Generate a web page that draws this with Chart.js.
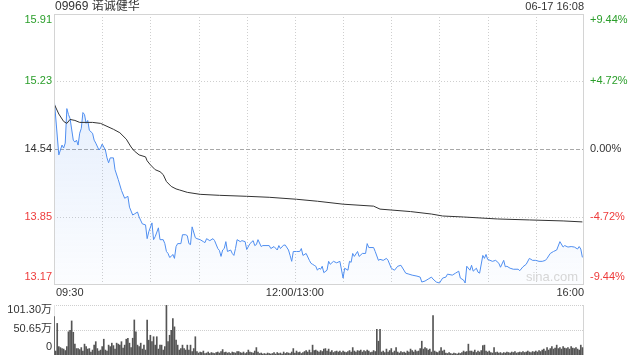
<!DOCTYPE html>
<html>
<head>
<meta charset="utf-8">
<script src="https://cdn.jsdelivr.net/npm/chart.js@4"></script>
<style>
  html, body { margin: 0; padding: 0; background: #fff; width: 640px; height: 360px; overflow: hidden; }
  #priceChart { position: absolute; left: 0; top: 0; }
  #volumeChart { position: absolute; left: 0; top: 300px; }
</style>
</head>
<body>
<canvas id="priceChart" width="640" height="300"></canvas>
<canvas id="volumeChart" width="640" height="60"></canvas>
<script>
// 09969 诺诚健华 intraday (minutes after 09:30, lunch break removed)
const stockTitle = '09969 诺诚健华';
const stampText = '06-17 16:08';
const prevClose = 14.54;

const priceTicks = [15.91, 15.23, 14.54, 13.85, 13.17];
const pctTicks = ['+9.44%', '+4.72%', '0.00%', '-4.72%', '-9.44%'];
const gridMinutes = [30, 60, 90, 120, 150, 180, 210, 240, 270, 300];
const timeLabels = ['09:30', '12:00/13:00', '16:00'];
const timeLabelMinutes = [0, 150, 330];
const volumeTicks = [101.3, 50.65, 0];
const volumeTickLabels = ['101.30万', '50.65万', '0'];

// [minute, price]
const priceSeries = [
  [0,15.07],[3,14.48],[5,14.58],[6,14.55],[7,14.60],[8,14.95],[9,14.89],[10,14.85],[12,14.63],[13,14.61],
  [14,14.63],[15,14.58],[16,14.70],[17,14.75],[18,14.91],[19,14.89],[20,14.80],[21,14.83],[22,14.73],[24,14.70],
  [25,14.63],[26,14.60],[28,14.53],[29,14.55],[30,14.59],[32,14.53],[33,14.45],[34,14.40],[35,14.45],[37,14.45],
  [38,14.33],[40,14.23],[42,14.12],[44,14.04],[46,14.06],[47,13.95],[49,13.87],[50,13.88],[52,13.90],[53,13.85],
  [55,13.78],[57,13.77],[58,13.63],[59,13.70],[61,13.79],[62,13.62],[63,13.65],[65,13.74],[66,13.62],[68,13.62],
  [69,13.58],[70,13.50],[71,13.48],[72,13.44],[73,13.45],[74,13.47],[75,13.43],[76,13.55],[77,13.58],[79,13.58],
  [80,13.67],[82,13.67],[83,13.66],[84,13.58],[85,13.57],[86,13.75],[88,13.64],[89,13.63],[91,13.62],[93,13.60],
  [94,13.59],[95,13.63],[97,13.61],[99,13.63],[100,13.61],[102,13.53],[103,13.51],[104,13.45],[105,13.515],[106,13.53],
  [107,13.60],[108,13.50],[110,13.515],[111,13.48],[112,13.46],[113,13.53],[114,13.62],[116,13.60],[117,13.61],[119,13.60],
  [120,13.52],[122,13.58],[124,13.61],[125,13.56],[126,13.57],[127,13.62],[129,13.55],[130,13.56],[132,13.56],[134,13.56],
  [135,13.53],[137,13.55],[139,13.515],[140,13.56],[141,13.53],[143,13.565],[144,13.565],[146,13.515],[147,13.46],[148,13.40],
  [149,13.50],[151,13.50],[153,13.50],[154,13.53],[155,13.46],[157,13.48],[159,13.41],[160,13.38],[161,13.37],[162,13.36],
  [163,13.35],[164,13.31],[165,13.33],[166,13.32],[167,13.35],[168,13.285],[170,13.31],[171,13.40],[172,13.37],[174,13.40],
  [176,13.385],[178,13.40],[180,13.23],[181,13.33],[183,13.31],[184,13.40],[185,13.39],[186,13.48],[187,13.45],[189,13.50],
  [190,13.45],[192,13.48],[194,13.48],[195,13.58],[196,13.54],[198,13.54],[199,13.54],[200,13.50],[202,13.41],[203,13.42],
  [205,13.41],[207,13.43],[208,13.41],[210,13.33],[212,13.31],[214,13.35],[216,13.36],[219,13.28],[221,13.27],[223,13.26],
  [226,13.25],[228,13.24],[229,13.19],[231,13.20],[233,13.22],[235,13.24],[236,13.22],[238,13.19],[240,13.18],[242,13.23],
  [244,13.24],[245,13.27],[248,13.26],[250,13.28],[252,13.30],[253,13.23],[255,13.21],[256,13.18],[257,13.35],[259,13.31],
  [260,13.36],[261,13.30],[263,13.33],[264,13.29],[265,13.28],[267,13.46],[268,13.43],[269,13.47],[270,13.42],[273,13.40],
  [275,13.41],[277,13.38],[278,13.34],[280,13.41],[281,13.345],[282,13.35],[284,13.33],[286,13.32],[289,13.32],[290,13.305],
  [292,13.345],[294,13.37],[296,13.43],[298,13.41],[300,13.41],[302,13.40],[304,13.40],[306,13.41],[307,13.43],[309,13.48],
  [311,13.50],[313,13.515],[315,13.60],[317,13.545],[318,13.56],[320,13.545],[322,13.55],[324,13.545],[326,13.525],[327,13.55],
  [328,13.525],[329,13.44]
];

// [minute, average price]
const avgSeries = [
  [0,15.00],[3,14.895],[6,14.82],[8,14.80],[10,14.84],[13,14.83],[16,14.81],[20,14.81],[24,14.81],[29,14.80],
  [33,14.77],[37,14.74],[41,14.705],[45,14.64],[48,14.56],[50,14.52],[53,14.48],[57,14.46],[58,14.42],[60,14.38],
  [63,14.33],[66,14.31],[68,14.28],[70,14.21],[73,14.16],[76,14.135],[78,14.125],[83,14.10],[91,14.08],[103,14.07],
  [120,14.06],[134,14.05],[151,14.03],[164,14.01],[180,13.98],[199,13.96],[203,13.93],[222,13.905],[235,13.88],[242,13.86],
  [255,13.85],[276,13.83],[296,13.82],[317,13.81],[329,13.80]
];

// volume per minute, 万股
const volume = [
  78,8,64,17,15,13,12,9,17,47,
  50,69,46,22,13,13,11,15,8,22,
  17,12,13,6,10,20,27,13,8,10,
  17,32,10,8,20,17,24,19,12,24,
  22,20,27,14,20,32,34,24,15,34,
  71,47,20,17,24,12,20,10,71,30,
  40,27,37,20,37,12,20,20,10,17,
  101,27,40,50,74,57,30,20,10,13,
  20,13,10,20,10,20,7,13,37,7,
  4,6,5,8,3,4,6,3,5,4,
  3,5,6,4,7,11,5,6,4,5,
  3,6,5,4,7,7,5,4,6,3,
  5,10,6,5,4,8,15,6,3,4,
  2,3,2,4,3,2,3,5,2,5,
  3,4,2,6,3,5,4,3,6,13,
  4,8,5,6,3,5,7,9,6,10,
  5,20,9,10,8,6,9,7,12,13,
  8,12,6,9,5,7,8,6,8,5,
  8,6,5,7,9,6,15,8,6,9,
  8,10,6,9,7,10,8,5,6,9,
  7,52,28,52,6,8,5,12,6,9,
  13,5,8,15,6,4,7,5,6,4,
  8,6,12,9,6,10,7,8,13,28,
  12,15,13,10,12,6,80,8,6,5,
  8,15,8,10,4,3,5,3,2,4,
  3,2,4,3,5,8,6,7,22,8,
  8,6,10,5,8,6,9,19,20,8,
  6,8,5,4,15,5,6,4,5,3,
  5,4,6,5,4,6,5,7,4,5,
  6,5,7,5,6,8,6,5,7,6,
  8,6,9,7,10,12,8,15,10,13,
  17,12,14,20,13,15,12,17,14,13,
  15,12,17,14,13,15,12,10,20,15
];

{
  const FONT = '"Liberation Sans", Arial, "Noto Sans CJK SC", sans-serif';
  const GREEN = '#2a9e2a';
  const RED = '#ee3b3b';
  const TEXT = '#333';

  const tickColor = (v) => v > prevClose + 0.001 ? GREEN : (v < prevClose - 0.001 ? RED : TEXT);

  const hLine = (ctx, area, y, color, dash) => {
    ctx.save();
    ctx.strokeStyle = color;
    ctx.lineWidth = 1;
    ctx.setLineDash(dash);
    ctx.beginPath();
    ctx.moveTo(area.left, Math.round(y) + 0.5);
    ctx.lineTo(area.right, Math.round(y) + 0.5);
    ctx.stroke();
    ctx.restore();
  };

  const vLine = (ctx, area, x, color, dash) => {
    ctx.save();
    ctx.strokeStyle = color;
    ctx.lineWidth = 1;
    ctx.setLineDash(dash);
    ctx.beginPath();
    ctx.moveTo(Math.round(x) + 0.5, area.top);
    ctx.lineTo(Math.round(x) + 0.5, area.bottom);
    ctx.stroke();
    ctx.restore();
  };

  const IntradayChart = {
    priceChart: null,
    volumeChart: null,

    init() {
      this.renderPrice();
      this.renderVolume();
    },

    // 分时价格 + 均价
    renderPrice() {
      const ctx = document.getElementById('priceChart');

      const overlay = {
        id: 'priceOverlay',
        beforeDatasetsDraw(chart) {
          const { ctx, chartArea: a, scales } = chart;
          gridMinutes.forEach(m => vLine(ctx, a, scales.x.getPixelForValue(m), '#cfcfcf', [1, 2]));
          priceTicks.forEach((v, i) => {
            if (i === 0 || i === priceTicks.length - 1) return;
            const y = scales.y.getPixelForValue(v);
            if (v === prevClose) hLine(ctx, a, y, '#a8a8a8', [4, 2]);
            else hLine(ctx, a, y, '#cfcfcf', [1, 2]);
          });
        },
        afterDraw(chart) {
          const { ctx, chartArea: a, scales } = chart;
          ctx.save();
          // 边框
          ctx.strokeStyle = '#d4d4d4';
          ctx.lineWidth = 1;
          ctx.strokeRect(a.left + 0.5, a.top + 0.5, a.right - a.left - 1, a.bottom - a.top);

          // 水印
          ctx.font = '13px ' + FONT;
          ctx.fillStyle = '#d6d6d6';
          ctx.textAlign = 'right';
          ctx.textBaseline = 'middle';
          ctx.fillText('sina.com', a.right - 6, a.bottom - 7);

          // 标题与时间
          ctx.font = '12px ' + FONT;
          ctx.fillStyle = TEXT;
          ctx.textAlign = 'left';
          ctx.fillText(stockTitle, a.left + 1, 7);
          ctx.font = '11px ' + FONT;
          ctx.textAlign = 'right';
          ctx.fillText(stampText, a.right, 7);

          // 价格 / 涨跌幅刻度
          ctx.font = '11px ' + FONT;
          priceTicks.forEach((v, i) => {
            let y = scales.y.getPixelForValue(v);
            if (i === 0) y += 6;
            if (i === priceTicks.length - 1) y -= 7;
            ctx.fillStyle = tickColor(v);
            ctx.textAlign = 'right';
            ctx.fillText(v.toFixed(2), a.left - 2, y);
            ctx.textAlign = 'left';
            ctx.fillText(pctTicks[i], a.right + 6, y);
          });

          // 时间轴
          ctx.fillStyle = TEXT;
          timeLabels.forEach((t, i) => {
            const x = scales.x.getPixelForValue(timeLabelMinutes[i]);
            ctx.textAlign = i === 0 ? 'left' : (i === timeLabels.length - 1 ? 'right' : 'center');
            ctx.fillText(t, i === 0 ? x + 2 : x, a.bottom + 9);
          });
          ctx.restore();
        }
      };

      this.priceChart = new Chart(ctx, {
        type: 'line',
        data: {
          datasets: [
            {
              label: '均价',
              data: avgSeries.map(([x, y]) => ({ x, y })),
              borderColor: '#333',
              borderWidth: 1,
              pointRadius: 0,
              fill: false,
              order: 1
            },
            {
              label: '价格',
              data: priceSeries.map(([x, y]) => ({ x, y })),
              borderColor: '#4f8ef0',
              borderWidth: 1,
              pointRadius: 0,
              fill: 'start',
              backgroundColor: (c) => {
                const area = c.chart.chartArea;
                if (!area) return 'rgba(79,142,240,0.1)';
                const g = c.chart.ctx.createLinearGradient(0, area.top, 0, area.bottom);
                g.addColorStop(0, 'rgba(79,142,240,0.2)');
                g.addColorStop(1, 'rgba(79,142,240,0.02)');
                return g;
              },
              order: 2
            }
          ]
        },
        options: {
          responsive: false,
          animation: false,
          devicePixelRatio: 1,
          events: [],
          layout: { padding: { left: 54, right: 56, top: 14, bottom: 16 } },
          plugins: { legend: { display: false }, tooltip: { enabled: false } },
          elements: { line: { tension: 0 } },
          scales: {
            x: { type: 'linear', min: 0, max: 330, display: false },
            y: { min: 13.17, max: 15.91, display: false }
          }
        },
        plugins: [overlay]
      });
    },

    // 成交量
    renderVolume() {
      const ctx = document.getElementById('volumeChart');

      const overlay = {
        id: 'volumeOverlay',
        beforeDatasetsDraw(chart) {
          const { ctx, chartArea: a, scales } = chart;
          hLine(ctx, a, scales.y.getPixelForValue(volumeTicks[0]), '#cfcfcf', [1, 1]);
          hLine(ctx, a, scales.y.getPixelForValue(volumeTicks[1]), '#cfcfcf', [1, 1]);
          vLine(ctx, a, a.right - 1, '#d4d4d4', []);
          vLine(ctx, a, a.left, '#e4e4e4', []);
        },
        afterDraw(chart) {
          const { ctx, chartArea: a, scales } = chart;
          ctx.save();
          ctx.font = '11px ' + FONT;
          ctx.fillStyle = TEXT;
          ctx.textAlign = 'right';
          ctx.textBaseline = 'middle';
          const shift = [5, -1, -8];
          volumeTicks.forEach((v, i) => {
            ctx.fillText(volumeTickLabels[i], a.left - 2, scales.y.getPixelForValue(v) + shift[i]);
          });
          ctx.restore();
        }
      };

      this.volumeChart = new Chart(ctx, {
        type: 'bar',
        data: {
          datasets: [{
            label: '成交量',
            data: volume.map((v, i) => ({ x: i, y: v })),
            backgroundColor: '#555',
            barThickness: 1,
            borderWidth: 0
          }]
        },
        options: {
          responsive: false,
          animation: false,
          devicePixelRatio: 1,
          events: [],
          layout: { padding: { left: 54, right: 56, top: 5, bottom: 5 } },
          plugins: { legend: { display: false }, tooltip: { enabled: false } },
          scales: {
            x: { type: 'linear', min: 0, max: 330, offset: false, display: false },
            y: { min: 0, max: 101.3, display: false }
          }
        },
        plugins: [overlay]
      });
    }
  };

  window.IntradayChart = IntradayChart;
  IntradayChart.init();
}
</script>
</body>
</html>
